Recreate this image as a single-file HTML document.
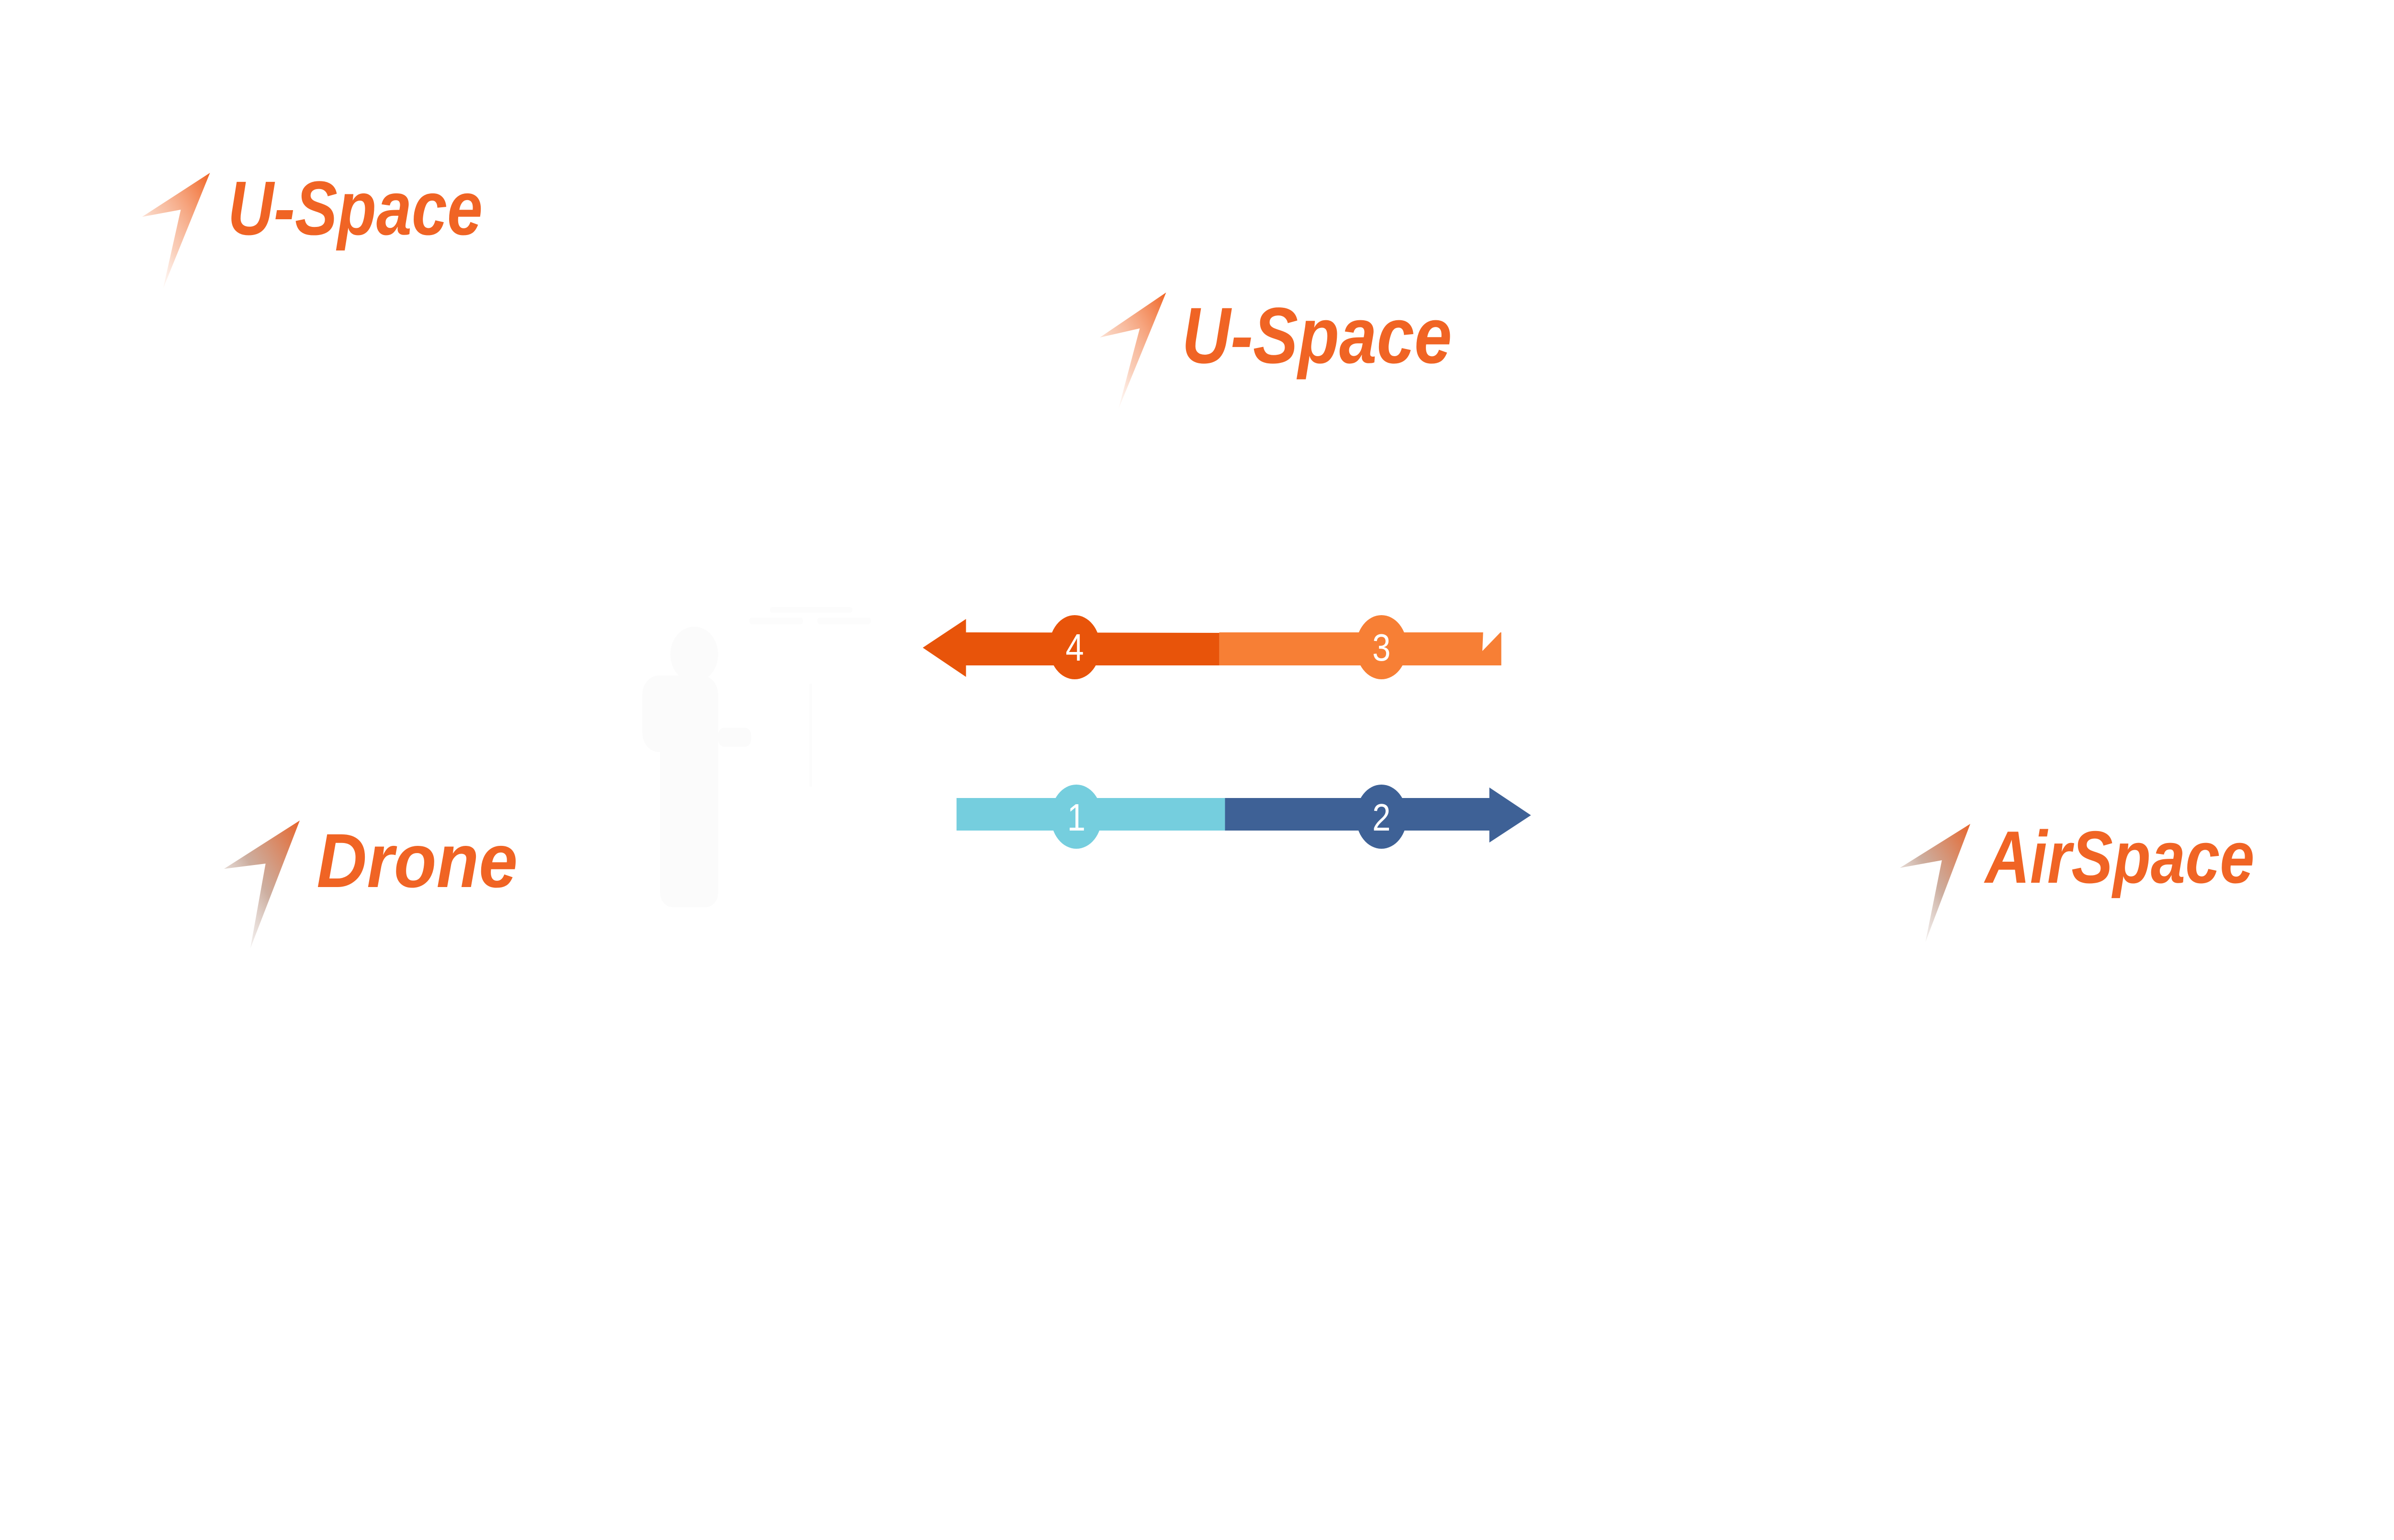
<!DOCTYPE html>
<html><head><meta charset="utf-8"><style>
html,body{margin:0;padding:0;background:#fff;width:100%;height:100%;overflow:hidden;}
svg{display:block;width:100vw;height:100vh;}
text{font-family:"Liberation Sans",sans-serif;}
</style></head><body>
<svg viewBox="0 0 5814 3217" preserveAspectRatio="none" xmlns="http://www.w3.org/2000/svg">
<defs>
<linearGradient id="g1" x1="1" y1="0" x2="0" y2="1">
<stop offset="0" stop-color="#f06424"/><stop offset="0.6" stop-color="#f6b08e" stop-opacity="0.6"/><stop offset="1" stop-color="#fff" stop-opacity="0"/>
</linearGradient>
<linearGradient id="g2" x1="1" y1="0" x2="0" y2="1">
<stop offset="0" stop-color="#e8642a"/><stop offset="0.5" stop-color="#c09a88" stop-opacity="0.8"/><stop offset="1" stop-color="#ddd" stop-opacity="0"/>
</linearGradient>
</defs>
<rect width="5814" height="3217" fill="#fff"/>

<g fill="#fbfbfb">
<circle cx="1686" cy="1367" r="58"/>
<rect x="1560" y="1411" width="184" height="160" rx="40"/>
<rect x="1603" y="1500" width="141" height="395" rx="30"/>
<rect x="1744" y="1520" width="80" height="40" rx="15"/>
</g>
<g fill="#fcfcfc">
<rect x="1870" y="1268" width="200" height="12" rx="6"/>
<rect x="1820" y="1290" width="130" height="14" rx="6"/>
<rect x="1985" y="1290" width="130" height="14" rx="6"/>
<rect x="1966" y="1428" width="6" height="215"/>
</g>

<polygon points="510,361 345,453 439,438 396,603" fill="url(#g1)"/>
<text x="553" y="490" font-size="160" font-weight="bold" font-style="italic" fill="#f06424" textLength="619" lengthAdjust="spacingAndGlyphs">U-Space</text>

<polygon points="2832,611 2671,705 2768,686 2716,855" fill="url(#g1)"/>
<text x="2870" y="758" font-size="166" font-weight="bold" font-style="italic" fill="#f06424" textLength="656" lengthAdjust="spacingAndGlyphs">U-Space</text>

<polygon points="728,1714 544,1815 645,1804 608,1981" fill="url(#g2)"/>
<text x="769" y="1853" font-size="160" font-weight="bold" font-style="italic" fill="#f06424" textLength="488" lengthAdjust="spacingAndGlyphs">Drone</text>

<polygon points="4785,1721 4614,1813 4716,1797 4676,1968" fill="url(#g2)"/>
<text x="4821" y="1844" font-size="155" font-weight="bold" font-style="italic" fill="#f06424" textLength="654" lengthAdjust="spacingAndGlyphs">AirSpace</text>

<polygon points="2241,1353 2346,1293 2346,1321 2961,1322 2961,1390 2346,1390 2346,1414" fill="#e8540a"/>
<rect x="2961" y="1321" width="685" height="69" fill="#f77f35"/>
<polygon points="3602,1319 3600,1360 3646,1319" fill="#fff"/>
<ellipse cx="2610" cy="1352" rx="62" ry="67" fill="#e8540a"/>
<ellipse cx="3355" cy="1352" rx="62" ry="67" fill="#f77f35"/>
<text x="2610" y="1380" font-size="80" fill="#fff" text-anchor="middle">4</text>
<text x="3355" y="1380" font-size="80" fill="#fff" text-anchor="middle">3</text>

<rect x="2323" y="1667" width="652" height="68" fill="#75cede"/>
<polygon points="2975,1667 3617,1667 3617,1645 3718,1703 3617,1760 3617,1735 2975,1735" fill="#3e6196"/>
<ellipse cx="2614" cy="1706" rx="62" ry="67" fill="#75cede"/>
<ellipse cx="3355" cy="1706" rx="62" ry="67" fill="#3e6196"/>
<text x="2614" y="1735" font-size="80" fill="#fff" text-anchor="middle">1</text>
<text x="3355" y="1735" font-size="80" fill="#fff" text-anchor="middle">2</text>
</svg>
</body></html>
